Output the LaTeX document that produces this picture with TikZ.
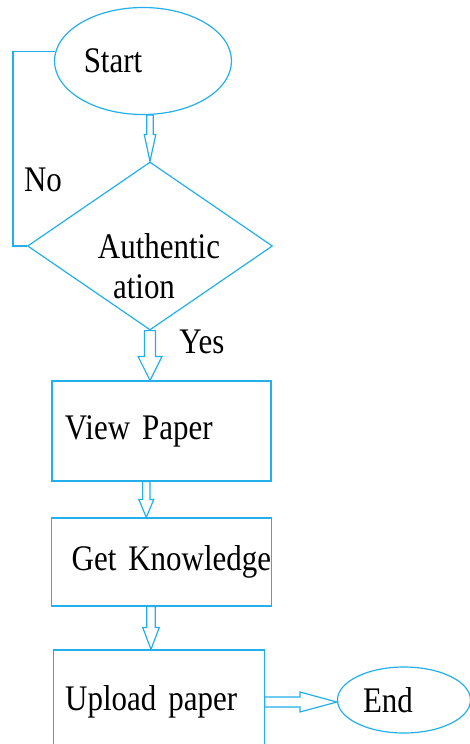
\documentclass[tikz,border=0pt]{standalone}
\usepackage{fontspec}
\setmainfont{Liberation Serif}[FakeStretch=0.86,WordSpace=0.7]
\usetikzlibrary{shapes.geometric,calc}
\definecolor{flowblue}{RGB}{35,175,235}
\tikzset{
  flowline/.style={draw=flowblue, line width=1.2pt},
  terminal/.style={flowline, ellipse, inner sep=0pt},
  decision/.style={flowline, diamond, inner sep=0pt},
  procbox/.style={flowline, rectangle, inner sep=0pt, align=left}
}
% hollow block arrows: from, to, half shaft, half head, head length
\newcommand{\downblock}[5]{%
  \draw[flowline, line join=miter] let \p1=(#1), \p2=(#2) in
    (\x2-#3,\y1) -- (\x2-#3,\y2+#5) -- (\x2-#4,\y2+#5) -- (\x2,\y2)
    -- (\x2+#4,\y2+#5) -- (\x2+#3,\y2+#5) -- (\x2+#3,\y1) -- cycle;}
\newcommand{\rightblock}[5]{%
  \draw[flowline, line join=miter] let \p1=(#1), \p2=(#2) in
    (\x1,\y1+#3) -- (\x2-#5,\y1+#3) -- (\x2-#5,\y1+#4) -- (\x2,\y1)
    -- (\x2-#5,\y1-#4) -- (\x2-#5,\y1-#3) -- (\x1,\y1-#3) -- cycle;}
\begin{document}
\begin{tikzpicture}[x=1pt,y=-1pt,font=\fontsize{36}{40}\selectfont]
\useasboundingbox (0,0) rectangle (470,744);
\clip (0,0) rectangle (470,744);

\node[terminal, minimum width=177pt, minimum height=107pt] (start) at (143,61) {Start\hspace*{60pt}};
\node[decision, minimum width=245pt, minimum height=168pt, aspect=1.46] (auth) at (150,246) {};
\node[align=center] (authtext) at (159,266) {Authentic\\\hspace*{-30pt}ation};
\node[procbox, text width=219pt, minimum height=100pt] (view) at (161.5,431) {\hspace*{13pt}View Paper};
\node[procbox, text width=220pt, minimum height=88pt] (get) at (161.7,562) {\hspace*{20pt}Get Knowledge};
\node[procbox, text width=211pt, minimum height=104pt] (upload) at (158.7,702) {\hspace*{12pt}Upload paper};
\node[terminal, minimum width=133pt, minimum height=66pt] (end) at (404,700) {End\hspace*{32pt}};

\node (no) at (43,180) {No};
\node (yes) at (202,342) {Yes};

%% loop back when not authentic
\coordinate (nofold) at (13,150);
\draw[flowline] (start.174) -- (start.174 -| nofold) |- (auth.west);

\downblock{start.south}{auth.north}{3.3pt}{5.8pt}{27pt}
\downblock{auth.south}{[xshift=-11.5pt]view.north}{5.5pt}{12pt}{24pt}
\downblock{[xshift=-15.2pt]view.south}{[xshift=-15.4pt]get.north}{3.7pt}{7.5pt}{18pt}
\downblock{[xshift=-10.7pt]get.south}{[xshift=-7.7pt]upload.north}{4.2pt}{8.3pt}{22pt}
\rightblock{upload.east}{end.west}{5pt}{10pt}{37pt}
\end{tikzpicture}
\end{document}
